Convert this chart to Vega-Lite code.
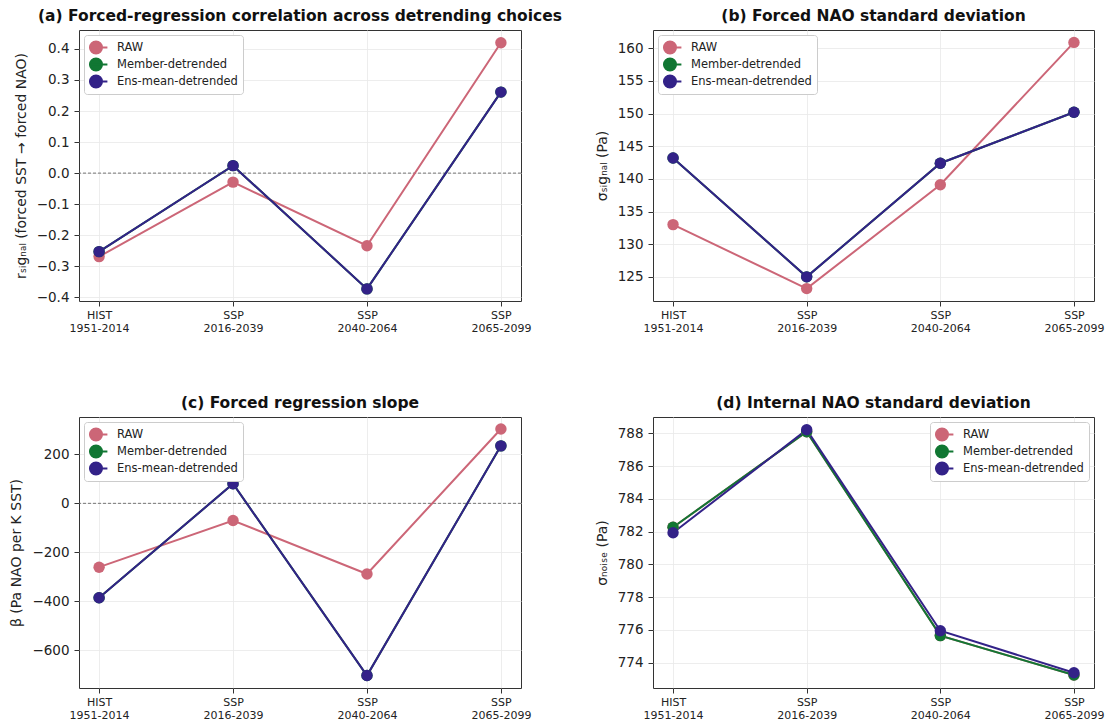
{
  "$schema": "https://vega.github.io/schema/vega-lite/v6.json",
  "background": "white",
  "padding": {"left": 9, "top": 8, "right": 2, "bottom": 2},
  "datasets": {
    "main": [
      {"panel": "a", "period": "HIST|1951-2014", "series": "RAW", "value": -0.269},
      {"panel": "a", "period": "SSP|2016-2039", "series": "RAW", "value": -0.029},
      {"panel": "a", "period": "SSP|2040-2064", "series": "RAW", "value": -0.234},
      {"panel": "a", "period": "SSP|2065-2099", "series": "RAW", "value": 0.420},
      {"panel": "a", "period": "HIST|1951-2014", "series": "Member-detrended", "value": -0.253},
      {"panel": "a", "period": "SSP|2016-2039", "series": "Member-detrended", "value": 0.024},
      {"panel": "a", "period": "SSP|2040-2064", "series": "Member-detrended", "value": -0.373},
      {"panel": "a", "period": "SSP|2065-2099", "series": "Member-detrended", "value": 0.261},
      {"panel": "a", "period": "HIST|1951-2014", "series": "Ens-mean-detrended", "value": -0.253},
      {"panel": "a", "period": "SSP|2016-2039", "series": "Ens-mean-detrended", "value": 0.024},
      {"panel": "a", "period": "SSP|2040-2064", "series": "Ens-mean-detrended", "value": -0.373},
      {"panel": "a", "period": "SSP|2065-2099", "series": "Ens-mean-detrended", "value": 0.261},
      {"panel": "b", "period": "HIST|1951-2014", "series": "RAW", "value": 133.0},
      {"panel": "b", "period": "SSP|2016-2039", "series": "RAW", "value": 123.2},
      {"panel": "b", "period": "SSP|2040-2064", "series": "RAW", "value": 139.1},
      {"panel": "b", "period": "SSP|2065-2099", "series": "RAW", "value": 160.9},
      {"panel": "b", "period": "HIST|1951-2014", "series": "Member-detrended", "value": 143.2},
      {"panel": "b", "period": "SSP|2016-2039", "series": "Member-detrended", "value": 125.0},
      {"panel": "b", "period": "SSP|2040-2064", "series": "Member-detrended", "value": 142.4},
      {"panel": "b", "period": "SSP|2065-2099", "series": "Member-detrended", "value": 150.2},
      {"panel": "b", "period": "HIST|1951-2014", "series": "Ens-mean-detrended", "value": 143.2},
      {"panel": "b", "period": "SSP|2016-2039", "series": "Ens-mean-detrended", "value": 125.0},
      {"panel": "b", "period": "SSP|2040-2064", "series": "Ens-mean-detrended", "value": 142.4},
      {"panel": "b", "period": "SSP|2065-2099", "series": "Ens-mean-detrended", "value": 150.2},
      {"panel": "c", "period": "HIST|1951-2014", "series": "RAW", "value": -261},
      {"panel": "c", "period": "SSP|2016-2039", "series": "RAW", "value": -70},
      {"panel": "c", "period": "SSP|2040-2064", "series": "RAW", "value": -289},
      {"panel": "c", "period": "SSP|2065-2099", "series": "RAW", "value": 304},
      {"panel": "c", "period": "HIST|1951-2014", "series": "Member-detrended", "value": -386},
      {"panel": "c", "period": "SSP|2016-2039", "series": "Member-detrended", "value": 80},
      {"panel": "c", "period": "SSP|2040-2064", "series": "Member-detrended", "value": -704},
      {"panel": "c", "period": "SSP|2065-2099", "series": "Member-detrended", "value": 235},
      {"panel": "c", "period": "HIST|1951-2014", "series": "Ens-mean-detrended", "value": -386},
      {"panel": "c", "period": "SSP|2016-2039", "series": "Ens-mean-detrended", "value": 80},
      {"panel": "c", "period": "SSP|2040-2064", "series": "Ens-mean-detrended", "value": -704},
      {"panel": "c", "period": "SSP|2065-2099", "series": "Ens-mean-detrended", "value": 235},
      {"panel": "d", "period": "HIST|1951-2014", "series": "RAW", "value": 782.27},
      {"panel": "d", "period": "SSP|2016-2039", "series": "RAW", "value": 788.1},
      {"panel": "d", "period": "SSP|2040-2064", "series": "RAW", "value": 775.65},
      {"panel": "d", "period": "SSP|2065-2099", "series": "RAW", "value": 773.24},
      {"panel": "d", "period": "HIST|1951-2014", "series": "Member-detrended", "value": 782.27},
      {"panel": "d", "period": "SSP|2016-2039", "series": "Member-detrended", "value": 788.1},
      {"panel": "d", "period": "SSP|2040-2064", "series": "Member-detrended", "value": 775.65},
      {"panel": "d", "period": "SSP|2065-2099", "series": "Member-detrended", "value": 773.24},
      {"panel": "d", "period": "HIST|1951-2014", "series": "Ens-mean-detrended", "value": 781.93},
      {"panel": "d", "period": "SSP|2016-2039", "series": "Ens-mean-detrended", "value": 788.22},
      {"panel": "d", "period": "SSP|2040-2064", "series": "Ens-mean-detrended", "value": 775.95},
      {"panel": "d", "period": "SSP|2065-2099", "series": "Ens-mean-detrended", "value": 773.38}
    ],
    "zero": [{"z": 0}]
  },
  "config": {
    "font": "DejaVu Sans",
    "view": {"stroke": "#333", "strokeWidth": 1},
    "title": {"fontSize": 15.5, "fontWeight": "bold", "color": "#111", "offset": 6, "font": "DejaVu Sans"},
    "axis": {
      "grid": true, "gridColor": "#e8e8e8", "gridWidth": 0.8,
      "domain": false, "tickColor": "#333", "tickSize": 5,
      "labelColor": "#222", "titleColor": "#222",
      "titleFontWeight": "normal", "titleFontSize": 14, "labelOverlap": false
    },
    "axisY": {"labelFontSize": 13.5, "labelPadding": 5, "titlePadding": 8, "titleFontSize": 14},
    "axisX": {"labelFontSize": 11, "labelAngle": 0, "labelPadding": 3, "labelLineHeight": 13},
    "legend": {
      "fillColor": "white", "strokeColor": "#cccccc", "cornerRadius": 3,
      "padding": 5, "offset": 5, "labelFontSize": 11.5, "labelColor": "#222",
      "rowPadding": 2, "clipHeight": 15, "symbolStrokeWidth": 2, "title": null,
      "symbolSize": 144, "labelOffset": 14,
      "symbolType": "M-1.9,0H1.9M1,0A1,1,0,1,1,-1,0A1,1,0,1,1,1,0Z"
    }
  },
  "resolve": {"scale": {"color": "independent", "y": "independent"}, "legend": {"color": "independent"}},
  "columns": 2,
  "spacing": {"column": 31, "row": 61},
  "concat": [
    {
      "title": "(a) Forced-regression correlation across detrending choices",
      "width": 442, "height": 271,
      "layer": [
        {
          "data": {"name": "zero"},
          "mark": {"type": "rule", "strokeDash": [3, 2], "color": "#555", "strokeWidth": 0.8},
          "encoding": {"y": {"field": "z", "type": "quantitative", "scale": {"domain": [-0.412, 0.461], "nice": false, "zero": false}, "axis": {"values": [-0.4, -0.3, -0.2, -0.1, 0, 0.1, 0.2, 0.3, 0.4], "format": ".1f", "title": "rₛᵢgₙₐₗ  (forced SST → forced NAO)"}}}
        },
        {
          "data": {"name": "main"},
          "transform": [{"filter": "datum.panel == 'a'"}],
          "mark": {"type": "line", "strokeWidth": 2, "point": {"filled": true, "size": 130, "opacity": 1}},
          "encoding": {
            "x": {"field": "period", "type": "nominal", "sort": ["HIST|1951-2014", "SSP|2016-2039", "SSP|2040-2064", "SSP|2065-2099"], "scale": {"type": "point", "padding": 0.15}, "axis": {"title": null, "labelExpr": "split(datum.label, '|')"}},
            "y": {"field": "value", "type": "quantitative", "scale": {"domain": [-0.412, 0.461], "nice": false, "zero": false}, "axis": {"values": [-0.4, -0.3, -0.2, -0.1, 0, 0.1, 0.2, 0.3, 0.4], "format": ".1f", "title": "rₛᵢgₙₐₗ  (forced SST → forced NAO)"}},
            "color": {"field": "series", "type": "nominal", "sort": ["RAW", "Member-detrended", "Ens-mean-detrended"], "scale": {"domain": ["RAW", "Member-detrended", "Ens-mean-detrended"], "range": ["#CC6677", "#117733", "#332288"]}, "legend": {"orient": "top-left"}}
          }
        }
      ]
    },
    {
      "title": "(b) Forced NAO standard deviation",
      "width": 441, "height": 271,
      "data": {"name": "main"},
      "transform": [{"filter": "datum.panel == 'b'"}],
      "mark": {"type": "line", "strokeWidth": 2, "point": {"filled": true, "size": 130, "opacity": 1}},
      "encoding": {
        "x": {"field": "period", "type": "nominal", "sort": ["HIST|1951-2014", "SSP|2016-2039", "SSP|2040-2064", "SSP|2065-2099"], "scale": {"type": "point", "padding": 0.15}, "axis": {"title": null, "labelExpr": "split(datum.label, '|')"}},
        "y": {"field": "value", "type": "quantitative", "scale": {"domain": [121.3, 162.8], "nice": false, "zero": false}, "axis": {"values": [125, 130, 135, 140, 145, 150, 155, 160], "title": "σₛᵢgₙₐₗ  (Pa)"}},
        "color": {"field": "series", "type": "nominal", "sort": ["RAW", "Member-detrended", "Ens-mean-detrended"], "scale": {"domain": ["RAW", "Member-detrended", "Ens-mean-detrended"], "range": ["#CC6677", "#117733", "#332288"]}, "legend": {"orient": "top-left"}}
      }
    },
    {
      "title": "(c) Forced regression slope",
      "width": 442, "height": 271,
      "layer": [
        {
          "data": {"name": "zero"},
          "mark": {"type": "rule", "strokeDash": [3, 2], "color": "#555", "strokeWidth": 0.8},
          "encoding": {"y": {"field": "z", "type": "quantitative", "scale": {"domain": [-755, 353], "nice": false, "zero": false}, "axis": {"values": [-600, -400, -200, 0, 200], "title": "β  (Pa NAO per K SST)"}}}
        },
        {
          "data": {"name": "main"},
          "transform": [{"filter": "datum.panel == 'c'"}],
          "mark": {"type": "line", "strokeWidth": 2, "point": {"filled": true, "size": 130, "opacity": 1}},
          "encoding": {
            "x": {"field": "period", "type": "nominal", "sort": ["HIST|1951-2014", "SSP|2016-2039", "SSP|2040-2064", "SSP|2065-2099"], "scale": {"type": "point", "padding": 0.15}, "axis": {"title": null, "labelExpr": "split(datum.label, '|')"}},
            "y": {"field": "value", "type": "quantitative", "scale": {"domain": [-755, 353], "nice": false, "zero": false}, "axis": {"values": [-600, -400, -200, 0, 200], "title": "β  (Pa NAO per K SST)"}},
            "color": {"field": "series", "type": "nominal", "sort": ["RAW", "Member-detrended", "Ens-mean-detrended"], "scale": {"domain": ["RAW", "Member-detrended", "Ens-mean-detrended"], "range": ["#CC6677", "#117733", "#332288"]}, "legend": {"orient": "top-left"}}
          }
        }
      ]
    },
    {
      "title": "(d) Internal NAO standard deviation",
      "width": 441, "height": 271,
      "data": {"name": "main"},
      "transform": [{"filter": "datum.panel == 'd'"}],
      "mark": {"type": "line", "strokeWidth": 2, "point": {"filled": true, "size": 130, "opacity": 1}},
      "encoding": {
        "x": {"field": "period", "type": "nominal", "sort": ["HIST|1951-2014", "SSP|2016-2039", "SSP|2040-2064", "SSP|2065-2099"], "scale": {"type": "point", "padding": 0.15}, "axis": {"title": null, "labelExpr": "split(datum.label, '|')"}},
        "y": {"field": "value", "type": "quantitative", "scale": {"domain": [772.45, 789.0], "nice": false, "zero": false}, "axis": {"values": [774, 776, 778, 780, 782, 784, 786, 788], "title": "σₙₒᵢₛₑ  (Pa)"}},
        "color": {"field": "series", "type": "nominal", "sort": ["RAW", "Member-detrended", "Ens-mean-detrended"], "scale": {"domain": ["RAW", "Member-detrended", "Ens-mean-detrended"], "range": ["#CC6677", "#117733", "#332288"]}, "legend": {"orient": "top-right"}}
      }
    }
  ]
}
